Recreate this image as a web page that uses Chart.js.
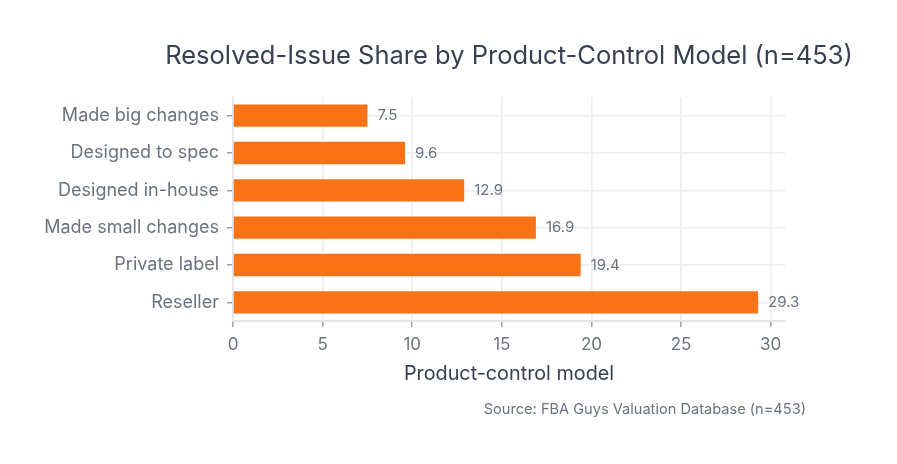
<!DOCTYPE html>
<html lang="en">
<head>
    <meta charset="UTF-8">
    <title>Resolved-Issue Share by Product-Control Model</title>
    <script src="https://cdn.jsdelivr.net/npm/chart.js"></script>
    <style>
        html, body {
            margin: 0;
            padding: 0;
            background: #ffffff;
        }
        #wrap {
            position: relative;
            width: 897px;
            height: 464px;
        }
    </style>
</head>
<body>
    <div id="wrap">
        <canvas id="chart" width="897" height="464"></canvas>
    </div>

    <script>
        // chart data
        const categories = ['Made big changes', 'Designed to spec', 'Designed in-house', 'Made small changes', 'Private label', 'Reseller'];
        const shares = [7.5, 9.6, 12.9, 16.9, 19.4, 29.3];
        const xTicks = [0, 5, 10, 15, 20, 25, 30];

        const titleText = 'Resolved-Issue Share by Product-Control Model (n=453)';
        const axisTitle = 'Product-control model';
        const sourceText = 'Source: FBA Guys Valuation Database (n=453)';

        const FONT = 'Inter, "Liberation Sans", Arial, sans-serif';
        const gridColor = '#ebecf0';
        const tickColor = '#6b7280';

        // value labels at the end of each bar + title/source text
        const extrasPlugin = {
            id: 'extras',
            afterDatasetsDraw(chart) {
                const ctx = chart.ctx;
                const meta = chart.getDatasetMeta(0);
                ctx.save();
                ctx.font = '15px ' + FONT;
                ctx.fillStyle = tickColor;
                ctx.textAlign = 'left';
                ctx.textBaseline = 'middle';
                meta.data.forEach((bar, i) => {
                    ctx.fillText(shares[i].toFixed(1), bar.x + 10, bar.y);
                });
                ctx.restore();
            },
            afterDraw(chart) {
                const ctx = chart.ctx;
                const area = chart.chartArea;
                const cx = (area.left + area.right) / 2;
                ctx.save();
                ctx.textAlign = 'center';
                ctx.textBaseline = 'middle';
                ctx.fillStyle = '#374151';
                ctx.font = '25.5px ' + FONT;
                ctx.fillText(titleText, cx, 56);
                ctx.font = '19.8px ' + FONT;
                ctx.fillText(axisTitle, cx, 374);
                ctx.textAlign = 'right';
                ctx.fillStyle = tickColor;
                ctx.font = '14.6px ' + FONT;
                ctx.fillText(sourceText, 806, 410);
                ctx.restore();
            }
        };

        const ctx = document.getElementById('chart').getContext('2d');
        new Chart(ctx, {
            type: 'bar',
            data: {
                labels: categories,
                datasets: [{
                    data: shares,
                    backgroundColor: '#f97316',
                    barPercentage: 0.6,
                    categoryPercentage: 1.0
                }]
            },
            options: {
                indexAxis: 'y',
                responsive: false,
                animation: false,
                layout: {
                    padding: { top: 97, right: 112, bottom: 0, left: 0 }
                },
                plugins: {
                    legend: { display: false },
                    tooltip: { enabled: false }
                },
                scales: {
                    x: {
                        min: 0,
                        max: 30.8,
                        afterBuildTicks(scale) {
                            scale.ticks = xTicks.map(v => ({ value: v }));
                        },
                        afterFit(scale) {
                            scale.height = 464 - 321;
                        },
                        grid: {
                            color: gridColor,
                            lineWidth: 1.5,
                            tickColor: '#9ca3af',
                            tickLength: 6
                        },
                        border: { color: '#e2e4ea', width: 2 },
                        ticks: {
                            color: tickColor,
                            font: { family: FONT, size: 17 },
                            padding: 8
                        }
                    },
                    y: {
                        afterFit(scale) {
                            scale.width = 233;
                        },
                        grid: {
                            offset: false,
                            color: gridColor,
                            lineWidth: 1.5,
                            tickColor: '#9ca3af',
                            tickLength: 6
                        },
                        border: { color: '#e2e4ea', width: 1.5 },
                        ticks: {
                            color: tickColor,
                            font: { family: FONT, size: 18 },
                            padding: 8
                        }
                    }
                }
            },
            plugins: [extrasPlugin]
        });
    </script>
</body>
</html>
